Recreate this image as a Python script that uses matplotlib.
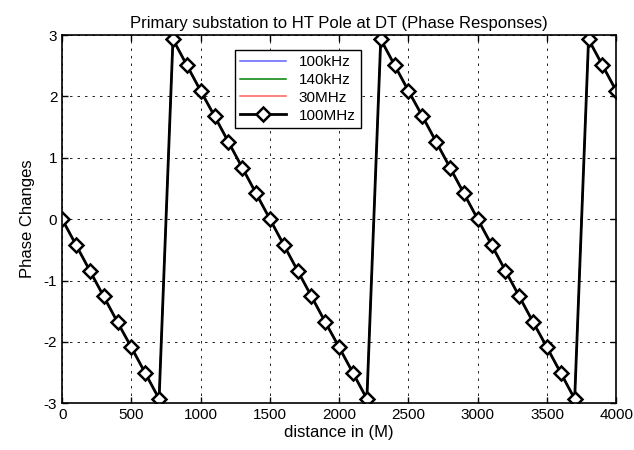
import numpy as np
import matplotlib.pyplot as plt

plt.rcParams['font.family'] = ['Liberation Sans', 'DejaVu Sans']
plt.rcParams['font.size'] = 11
plt.rcParams['axes.unicode_minus'] = False

# distance points (m)
distance = [0, 100, 200, 300, 400, 500, 600, 700, 800, 900,
            1000, 1100, 1200, 1300, 1400, 1500, 1600, 1700, 1800, 1900,
            2000, 2100, 2200, 2300, 2400, 2500, 2600, 2700, 2800, 2900,
            3000, 3100, 3200, 3300, 3400, 3500, 3600, 3700, 3800, 3900, 4000]

# phase (all four frequencies overlap)
phase_100mhz = [0.00, -0.42, -0.84, -1.26, -1.68, -2.09, -2.51, -2.93, 2.93, 2.51,
                2.09, 1.68, 1.26, 0.84, 0.42, 0.00, -0.42, -0.84, -1.26, -1.68,
                -2.09, -2.51, -2.93, 2.93, 2.51, 2.09, 1.68, 1.26, 0.84, 0.42,
                0.00, -0.42, -0.84, -1.26, -1.68, -2.09, -2.51, -2.93, 2.93, 2.51, 2.09]
phase_100khz = phase_100mhz
phase_140khz = phase_100mhz
phase_30mhz = phase_100mhz

fig = plt.figure(figsize=(6.34, 4.5), dpi=100)
ax = fig.add_axes([0.098, 0.104, 0.874, 0.818])

ax.plot(distance, phase_100khz, color='#6060ff', lw=1.1, label='100kHz')
ax.plot(distance, phase_140khz, color='#008000', lw=1.1, label='140kHz')
ax.plot(distance, phase_30mhz, color='#ff6060', lw=1.1, label='30MHz')
ax.plot(distance, phase_100mhz, color='black', lw=2, marker='D', ms=7,
        mfc='white', mec='black', mew=1.8, label='100MHz')

ax.set_xlim(0, 4000)
ax.set_ylim(-3, 3)
ax.set_xticks(range(0, 4001, 500))
ax.set_yticks(range(-3, 4))
ax.tick_params(direction='in', length=4, width=1, top=True, right=True, labelsize=11)
ax.grid(True, color='black', linestyle=(0, (3, 6)), linewidth=0.6)
for sp in ax.spines.values():
    sp.set_linewidth(1.2)

ax.set_title('Primary substation to HT Pole at DT (Phase Responses)', fontsize=12, pad=5)
ax.set_xlabel('distance in (M)', fontsize=12, labelpad=2)
ax.set_ylabel('Phase Changes', fontsize=12, labelpad=6)

leg = ax.legend(loc='upper left', bbox_to_anchor=(0.312, 0.96), fancybox=False,
                framealpha=1, edgecolor='black', borderaxespad=0, fontsize=11,
                handlelength=3, labelspacing=0.25, borderpad=0.35)
leg.get_frame().set_linewidth(1.0)

fig.savefig('out.png', dpi=100)
